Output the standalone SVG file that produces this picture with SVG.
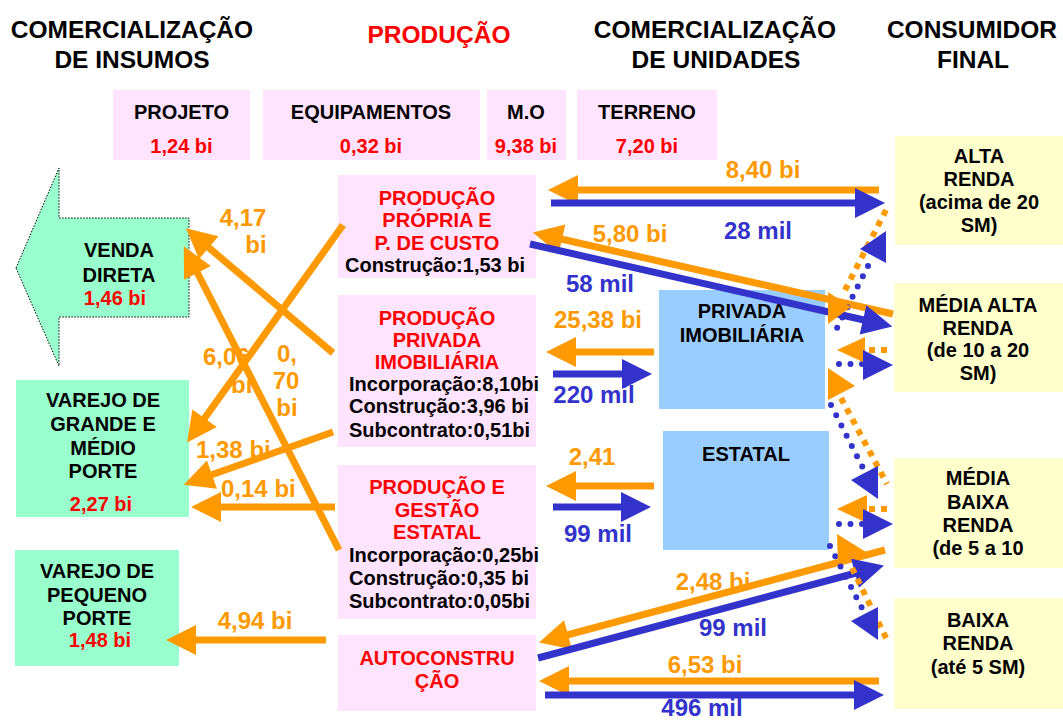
<svg xmlns="http://www.w3.org/2000/svg" width="1063" height="721" viewBox="0 0 1063 721">
<style>
text{font-family:"Liberation Sans",Arial,sans-serif;font-weight:bold}
.h{font-size:24.5px}
.t{font-size:20px}
.l{font-size:24px}
.c{text-anchor:middle}
.k{fill:#000}
.r{fill:#FF0000}
.o{fill:#FF9900}
.b{fill:#3333CC}
.pink{fill:#FFE3FF}
.green{fill:#99FFCC}
.yel{fill:#FFFFCC}
.sky{fill:#99CCFF}
.lo{stroke:#FF9900;stroke-width:7;fill:none}
.lb{stroke:#3333CC;stroke-width:7;fill:none}
.dob{stroke:#FF9900;stroke-width:6;fill:none;stroke-dasharray:6 6}
.dbl{stroke:#3333CC;stroke-width:6;fill:none;stroke-dasharray:0 11.5;stroke-linecap:round}
</style>
<defs>
<marker id="ao" markerUnits="userSpaceOnUse" markerWidth="32" markerHeight="32" refX="1" refY="15" orient="auto" overflow="visible"><path d="M0,0 L30,15 L0,30 Z" fill="#FF9900"/></marker>
<marker id="ab" markerUnits="userSpaceOnUse" markerWidth="32" markerHeight="32" refX="1" refY="15" orient="auto" overflow="visible"><path d="M0,0 L30,15 L0,30 Z" fill="#3333CC"/></marker>
</defs>
<rect width="1063" height="721" fill="#FFFFFF"/>

<g id="headers">
<text class="h c k" x="132" y="38">COMERCIALIZAÇÃO</text>
<text class="h c k" x="132" y="68">DE INSUMOS</text>
<text class="h c r" x="439" y="43">PRODUÇÃO</text>
<text class="h c k" x="715" y="38">COMERCIALIZAÇÃO</text>
<text class="h c k" x="716" y="68">DE UNIDADES</text>
<text class="h c k" x="972" y="38">CONSUMIDOR</text>
<text class="h c k" x="973" y="68">FINAL</text>
</g>

<g id="projeto"><rect class="pink" x="113" y="90" width="137" height="70"/>
<text class="t c k" x="181.5" y="119">PROJETO</text><text class="t c r" x="181.5" y="153">1,24 bi</text></g>
<g id="equipamentos"><rect class="pink" x="263" y="90" width="217" height="70"/>
<text class="t c k" x="371" y="119">EQUIPAMENTOS</text><text class="t c r" x="371" y="153">0,32 bi</text></g>
<g id="mo"><rect class="pink" x="487" y="90" width="79" height="70"/>
<text class="t c k" x="526" y="119">M.O</text><text class="t c r" x="526" y="153">9,38 bi</text></g>
<g id="terreno"><rect class="pink" x="577" y="90" width="140" height="70"/>
<text class="t c k" x="647" y="119">TERRENO</text><text class="t c r" x="647" y="153">7,20 bi</text></g>

<g id="venda-direta">
<polygon points="16,268 59,168 59,218 189,218 189,317 59,317 59,366" class="green" stroke="#000" stroke-width="1" stroke-dasharray="1.5 1.5"/>
<text class="t c k" x="119" y="257">VENDA</text>
<text class="t c k" x="119" y="282">DIRETA</text>
<text class="t c r" x="115" y="305">1,46 bi</text>
</g>
<g id="varejo-grande">
<rect class="green" x="16" y="380" width="173" height="137"/>
<text class="t c k" x="103" y="407">VAREJO DE</text>
<text class="t c k" x="103" y="431">GRANDE E</text>
<text class="t c k" x="103" y="455">MÉDIO</text>
<text class="t c k" x="103" y="478">PORTE</text>
<text class="t c r" x="101" y="511">2,27 bi</text>
</g>
<g id="varejo-pequeno">
<rect class="green" x="15" y="550" width="164" height="116"/>
<text class="t c k" x="97" y="578">VAREJO DE</text>
<text class="t c k" x="97" y="602">PEQUENO</text>
<text class="t c k" x="97" y="625">PORTE</text>
<text class="t c r" x="100" y="647">1,48 bi</text>
</g>

<g id="producao-propria">
<rect class="pink" x="338" y="175" width="198" height="103"/>
<text class="t c r" x="437" y="205">PRODUÇÃO</text>
<text class="t c r" x="437" y="227">PRÓPRIA E</text>
<text class="t c r" x="437" y="250">P. DE CUSTO</text>
<text class="t c k" x="435" y="272">Construção:1,53 bi</text>
</g>
<g id="producao-privada">
<rect class="pink" x="338" y="295" width="198" height="152"/>
<text class="t c r" x="437" y="325">PRODUÇÃO</text>
<text class="t c r" x="437" y="347">PRIVADA</text>
<text class="t c r" x="437" y="369">IMOBILIÁRIA</text>
<text class="t k" x="349" y="391">Incorporação:8,10bi</text>
<text class="t k" x="349" y="413">Construção:3,96 bi</text>
<text class="t k" x="349" y="437">Subcontrato:0,51bi</text>
</g>
<g id="producao-estatal">
<rect class="pink" x="338" y="465" width="198" height="154"/>
<text class="t c r" x="437" y="494">PRODUÇÃO E</text>
<text class="t c r" x="437" y="517">GESTÃO</text>
<text class="t c r" x="437" y="539">ESTATAL</text>
<text class="t k" x="349" y="562">Incorporação:0,25bi</text>
<text class="t k" x="349" y="585">Construção:0,35 bi</text>
<text class="t k" x="349" y="608">Subcontrato:0,05bi</text>
</g>
<g id="autoconstrucao">
<rect class="pink" x="338" y="635" width="198" height="76"/>
<text class="t c r" x="437" y="665">AUTOCONSTRU</text>
<text class="t c r" x="437" y="688">ÇÃO</text>
</g>

<g id="privada-imobiliaria">
<rect class="sky" x="659" y="290" width="166" height="119"/>
<text class="t c k" x="742" y="318">PRIVADA</text>
<text class="t c k" x="742" y="342">IMOBILIÁRIA</text>
</g>
<g id="estatal">
<rect class="sky" x="663" y="431" width="166" height="119"/>
<text class="t c k" x="746" y="461">ESTATAL</text>
</g>

<g id="alta-renda">
<rect class="yel" x="895" y="136" width="168" height="109"/>
<text class="t c k" x="979" y="163">ALTA</text>
<text class="t c k" x="979" y="186">RENDA</text>
<text class="t c k" x="979" y="209">(acima de 20</text>
<text class="t c k" x="979" y="232">SM)</text>
</g>
<g id="media-alta-renda">
<rect class="yel" x="894" y="283" width="169" height="109"/>
<text class="t c k" x="978" y="312">MÉDIA ALTA</text>
<text class="t c k" x="978" y="335">RENDA</text>
<text class="t c k" x="978" y="357">(de 10 a 20</text>
<text class="t c k" x="978" y="380">SM)</text>
</g>
<g id="media-baixa-renda">
<rect class="yel" x="894" y="458" width="169" height="110"/>
<text class="t c k" x="978" y="485">MÉDIA</text>
<text class="t c k" x="978" y="509">BAIXA</text>
<text class="t c k" x="978" y="532">RENDA</text>
<text class="t c k" x="978" y="555">(de 5 a 10</text>
</g>
<g id="baixa-renda">
<rect class="yel" x="894" y="598" width="169" height="111"/>
<text class="t c k" x="978" y="627">BAIXA</text>
<text class="t c k" x="978" y="650">RENDA</text>
<text class="t c k" x="978" y="674">(até 5 SM)</text>
</g>

<g id="edge-labels">
<text class="l c o" x="763" y="178">8,40 bi</text>
<text class="l c b" x="758" y="239">28 mil</text>
<text class="l c o" x="630" y="242">5,80 bi</text>
<text class="l c b" x="600" y="292">58 mil</text>
<text class="l c o" x="598" y="328">25,38 bi</text>
<text class="l c b" x="594" y="403">220 mil</text>
<text class="l c o" x="592" y="465">2,41</text>
<text class="l c b" x="598" y="542">99 mil</text>
<text class="l c o" x="713" y="590">2,48 bi</text>
<text class="l c b" x="733" y="636">99 mil</text>
<text class="l c o" x="705" y="673">6,53 bi</text>
<text class="l c b" x="702" y="716">496 mil</text>
<text class="l c o" x="243" y="226">4,17</text>
<text class="l c o" x="256" y="253">bi</text>
<text class="l o" x="203" y="365">6,06</text>
<text class="l o" x="231" y="393">bi</text>
<text class="l c o" x="287" y="362">0,</text>
<text class="l c o" x="286" y="389">70</text>
<text class="l c o" x="287" y="416">bi</text>
<text class="l o" x="196" y="458">1,38 bi</text>
<text class="l o" x="221" y="497">0,14 bi</text>
<text class="l c o" x="255" y="629">4,94 bi</text>
</g>

<g id="connectors">
<line class="lo" x1="333" y1="353" x2="208" y2="247" marker-end="url(#ao)"/>
<line class="lo" x1="343" y1="225" x2="204" y2="419" marker-end="url(#ao)"/>
<line class="lo" x1="339" y1="550" x2="197" y2="272" marker-end="url(#ao)"/>
<line class="lo" x1="333" y1="432" x2="211" y2="475" marker-end="url(#ao)"/>
<line class="lo" x1="335" y1="507" x2="220" y2="507" marker-end="url(#ao)"/>
<line class="lo" x1="326" y1="640" x2="195" y2="640" marker-end="url(#ao)"/>
<line class="lo" x1="879" y1="190" x2="577" y2="190" marker-end="url(#ao)"/>
<line class="lb" x1="551" y1="203" x2="856" y2="203" marker-end="url(#ab)"/>
<line class="lo" x1="893" y1="314" x2="561" y2="239" marker-end="url(#ao)"/>
<line class="lb" x1="530" y1="244" x2="864" y2="320" marker-end="url(#ab)"/>
<line class="lo" x1="654" y1="352" x2="575" y2="352" marker-end="url(#ao)"/>
<line class="lb" x1="553" y1="374" x2="623" y2="374" marker-end="url(#ab)"/>
<line class="lo" x1="654" y1="486" x2="575" y2="486" marker-end="url(#ao)"/>
<line class="lb" x1="553" y1="507" x2="622" y2="507" marker-end="url(#ab)"/>
<line class="lo" x1="885" y1="550" x2="567" y2="635" marker-end="url(#ao)"/>
<line class="lb" x1="538" y1="658" x2="856" y2="573" marker-end="url(#ab)"/>
<line class="lo" x1="879" y1="681" x2="568" y2="681" marker-end="url(#ao)"/>
<line class="lb" x1="545" y1="695" x2="855" y2="695" marker-end="url(#ab)"/>
<path class="dob" d="M886,210 L843,294"/>
<path class="dob" d="M869,350 L891,350"/>
<path class="dob" d="M841,398 L887,484"/>
<path class="dob" d="M869,509 L891,509"/>
<path class="dob" d="M852,568 L888,642"/>
<path class="dbl" d="M868,266 L832,338"/>
<path class="dbl" d="M839,364 L863,364"/>
<path class="dbl" d="M831,405 L866,474"/>
<path class="dbl" d="M839,524 L863,524"/>
<path class="dbl" d="M830,546 L866,616"/>
<polygon points="860,249 886,231 886,263" fill="#3333CC"/>
<polygon points="828,292 828,324 851,307" fill="#FF9900"/>
<polygon points="837,350 865,337 865,363" fill="#FF9900"/>
<polygon points="863,350 863,380 893,365" fill="#3333CC"/>
<polygon points="828,368 828,400 855,386" fill="#FF9900"/>
<polygon points="851,480 878,466 878,499" fill="#3333CC"/>
<polygon points="837,509 867,495 867,523" fill="#FF9900"/>
<polygon points="863,509 863,539 893,524" fill="#3333CC"/>
<polygon points="837,534 838,564 866,552" fill="#FF9900"/>
<polygon points="851,621 878,607 878,640" fill="#3333CC"/>
</g>
</svg>
